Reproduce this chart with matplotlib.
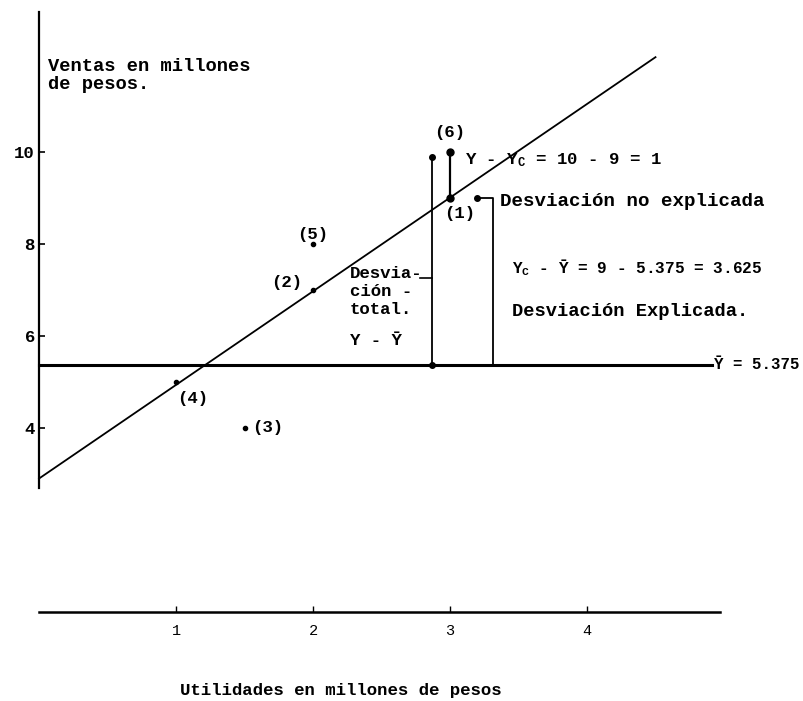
import matplotlib
matplotlib.use("Agg")
import matplotlib.pyplot as plt

# Datos: utilidades (X) y ventas (Y), en millones de pesos
puntos = ["(1)", "(2)", "(3)", "(4)", "(5)", "(6)"]
utilidades = [3, 2, 1.5, 1, 2, 3]
ventas = [9, 7, 4, 5, 8, 10]
y_media = 5.375
a, b = 2.9, 2.035          # recta de regresion Yc = a + bX
x_total = 2.87             # posicion de la flecha de desviacion total
x_noexp = 3.314            # posicion del corchete de desviacion explicada

plt.rcParams['font.family'] = ['Liberation Mono', 'DejaVu Sans Mono']
plt.rcParams['font.weight'] = 'bold'
plt.rcParams['mathtext.fontset'] = 'custom'
plt.rcParams['mathtext.rm'] = 'Liberation Mono:bold'
plt.rcParams['mathtext.it'] = 'Liberation Mono:bold'
plt.rcParams['mathtext.bf'] = 'Liberation Mono:bold'

fig = plt.figure(figsize=(8.04, 7.01), dpi=100)
ax = fig.add_axes([0, 0, 1, 1])
ax.set_xlim(-0.285, 5.584)
ax.set_ylim(-1.935, 13.30)

# ejes
for s in ['top', 'right']:
    ax.spines[s].set_visible(False)
ax.spines['left'].set_position(('data', 0))
ax.spines['left'].set_bounds(2.7, 13.05)
ax.spines['bottom'].set_position(('data', 0))
ax.spines['bottom'].set_bounds(0, 4.97)
ax.spines['left'].set_linewidth(1.6)
ax.spines['bottom'].set_linewidth(1.8)

ax.set_xticks([1, 2, 3, 4])
ax.set_xticklabels(['1', '2', '3', '4'], fontsize=11, fontweight='normal')
ax.set_yticks([4, 6, 8, 10])
ax.set_yticklabels(['4', '6', '8', '10'], fontsize=12.5, fontweight='bold')
ax.tick_params(axis='x', direction='in', length=4, width=1, pad=9)
ax.tick_params(axis='y', direction='in', length=4, width=1.2, pad=3)

ax.text(0.066, 11.85, "Ventas en millones", fontsize=13.5, va='center')
ax.text(0.066, 11.46, "de pesos.", fontsize=13.5, va='center')
ax.text(2.2, -1.7, "Utilidades en millones de pesos", fontsize=12.5,
        ha='center', va='center')

# recta de regresion y media
xr = [0, 4.5]
ax.plot(xr, [a + b * x for x in xr], color='black', lw=1.3)
ax.plot([0, 4.91], [y_media, y_media], color='black', lw=2.2)
ax.text(4.93, y_media, "Ȳ = 5.375", fontsize=11.3, va='center')

# puntos observados
ax.plot(utilidades[1:5], ventas[1:5], 'o', color='black', ms=3)
ax.plot([3, 3], [9, 10], color='black', lw=1.6)
ax.plot([3, 3], [9, 10], 'o', color='black', ms=5)

ax.text(2.955, 8.67, "(1)", fontsize=12.5, va='center')
ax.text(1.81, 7.15, "(2)", fontsize=12.5, ha='center', va='center')
ax.text(1.555, 4.0, "(3)", fontsize=12.5, va='center')
ax.text(1.12, 4.65, "(4)", fontsize=12.5, ha='center', va='center')
ax.text(2.0, 8.2, "(5)", fontsize=12.5, ha='center', va='center')
ax.text(3.0, 10.41, "(6)", fontsize=12.5, ha='center', va='center')

# desviacion total
ax.plot([x_total, x_total], [y_media, 9.89], color='black', lw=1.3)
ax.plot([x_total, x_total], [y_media, 9.89], 'o', color='black', ms=4)
ax.plot([2.78, x_total], [7.26, 7.26], color='black', lw=1.2)
ax.text(2.27, 7.35, "Desvia-", fontsize=12.5, va='center')
ax.text(2.27, 6.96, "ción -", fontsize=12.5, va='center')
ax.text(2.27, 6.57, "total.", fontsize=12.5, va='center')
ax.text(2.27, 5.91, "Y - Ȳ", fontsize=12.5, va='center')

# desviacion no explicada
ax.text(3.11, 9.83, r"Y - Y$_{\mathrm{C}}$ = 10 - 9 = 1", fontsize=12.5,
        va='center')
ax.plot([3.197, x_noexp, x_noexp], [9, 9, y_media], color='black', lw=1.3)
ax.plot([3.197], [9], 'o', color='black', ms=4)
ax.text(3.365, 8.91, "Desviación no explicada", fontsize=13.8, va='center')

# desviacion explicada
ax.text(3.45, 7.48, r"Y$_{\mathrm{C}}$ - Ȳ = 9 - 5.375 = 3.625", fontsize=11.6,
        va='center')
ax.text(3.45, 6.54, "Desviación Explicada.", fontsize=13.5, va='center')

fig.savefig("out.png", dpi=100)
